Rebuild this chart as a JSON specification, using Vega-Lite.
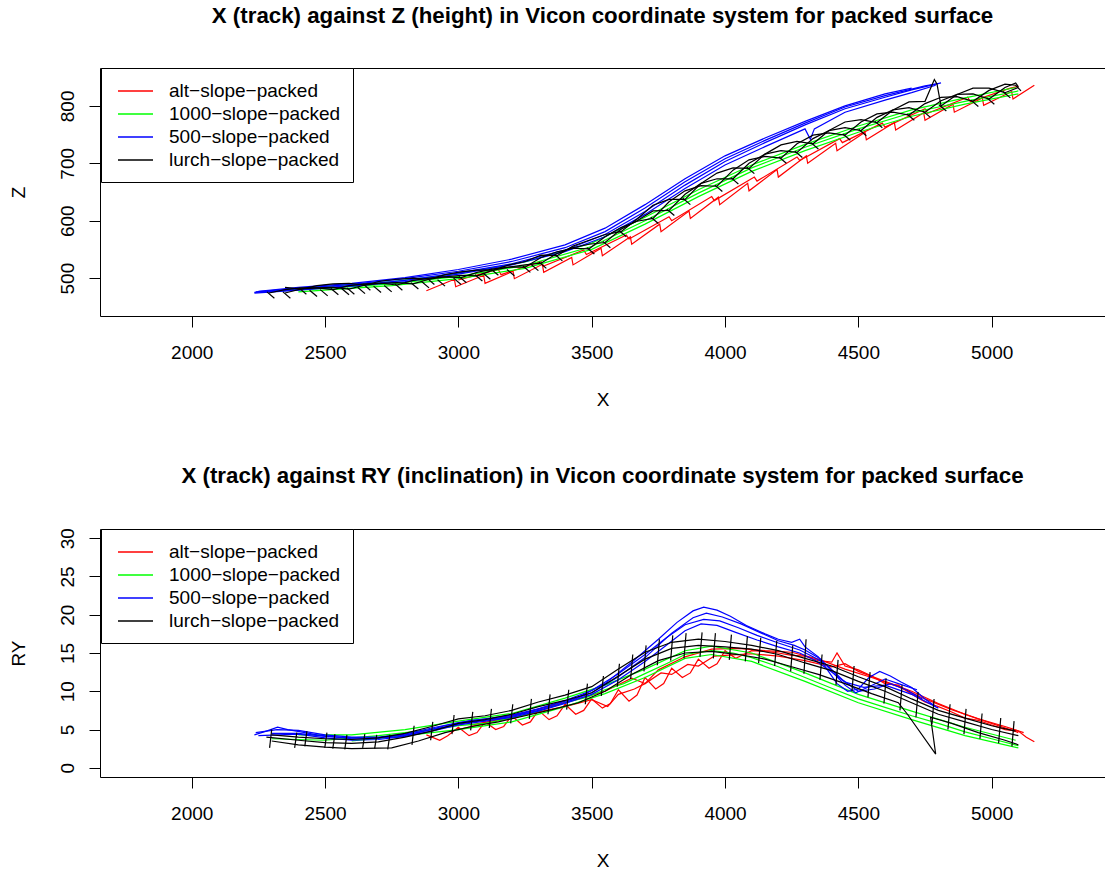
{
"$schema":"https://vega.github.io/schema/vega-lite/v6.json",
"padding":{"left":8,"top":4,"right":0,"bottom":6},
"background":"white",
"bounds":"flush",
"spacing":213,
"resolve":{"scale":{"stroke":"independent"},"legend":{"stroke":"independent"}},
"config":{
 "font":"Liberation Sans",
 "view":{"stroke":"black","strokeWidth":1},
 "axis":{"domain":false,"grid":false,"tickColor":"black","tickSize":11,"tickWidth":1,"labelFontSize":19,"labelColor":"black","labelFont":"Liberation Sans","titleFontSize":19,"titleFontWeight":"normal","titleColor":"black","titleFont":"Liberation Sans","labelFlush":false,"labelOverlap":false,"labelBaseline":"alphabetic","titleBaseline":"alphabetic","titleAlign":"center","format":"d"},
 "axisX":{"labelPadding":31,"titleX":502.5,"titleY":89,"labelAngle":0,"labelAlign":"center"},
 "axisY":{"labelPadding":16,"labelAngle":270,"labelAlign":"center","titleX":-76,"titleY":124,"titleAngle":270},
 "legend":{"title":null,"orient":"none","legendX":1,"legendY":0,"strokeColor":"black","fillColor":"white","padding":12,"rowPadding":2,"labelFontSize":19,"labelFont":"Liberation Sans","labelColor":"black","labelOffset":34,"symbolType":"M-0.6,0H2.9","symbolSize":400,"symbolStrokeWidth":1.5,"labelLimit":0},
 "title":{"fontSize":22.3,"fontWeight":"bold","color":"black","anchor":"middle","baseline":"alphabetic","offset":40,"font":"Liberation Sans"}
},
"datasets":{
"zl":[
{"s":"alt","t":"a1","x":2880,"y":478},{"s":"alt","t":"a1","x":2985,"y":498},{"s":"alt","t":"a1","x":2990,"y":485},{"s":"alt","t":"a1","x":3095,"y":505},{"s":"alt","t":"a1","x":3100,"y":491},{"s":"alt","t":"a1","x":3205,"y":512},{"s":"alt","t":"a1","x":3210,"y":499},{"s":"alt","t":"a1","x":3315,"y":524},{"s":"alt","t":"a1","x":3320,"y":510},{"s":"alt","t":"a1","x":3425,"y":536},{"s":"alt","t":"a1","x":3430,"y":523},{"s":"alt","t":"a1","x":3535,"y":552},{"s":"alt","t":"a1","x":3540,"y":539},{"s":"alt","t":"a1","x":3645,"y":572},{"s":"alt","t":"a1","x":3650,"y":559},{"s":"alt","t":"a1","x":3755,"y":594},{"s":"alt","t":"a1","x":3760,"y":581},{"s":"alt","t":"a1","x":3865,"y":617},{"s":"alt","t":"a1","x":3870,"y":604},{"s":"alt","t":"a1","x":3975,"y":641},{"s":"alt","t":"a1","x":3980,"y":628},{"s":"alt","t":"a1","x":4085,"y":665},{"s":"alt","t":"a1","x":4090,"y":652},{"s":"alt","t":"a1","x":4195,"y":689},{"s":"alt","t":"a1","x":4200,"y":676},{"s":"alt","t":"a1","x":4305,"y":713},{"s":"alt","t":"a1","x":4310,"y":700},{"s":"alt","t":"a1","x":4415,"y":735},{"s":"alt","t":"a1","x":4420,"y":722},{"s":"alt","t":"a1","x":4525,"y":754},{"s":"alt","t":"a1","x":4530,"y":741},{"s":"alt","t":"a1","x":4635,"y":771},{"s":"alt","t":"a1","x":4640,"y":758},{"s":"alt","t":"a1","x":4745,"y":788},{"s":"alt","t":"a1","x":4750,"y":775},{"s":"alt","t":"a1","x":4855,"y":803},{"s":"alt","t":"a1","x":4860,"y":789},{"s":"alt","t":"a1","x":4965,"y":814},{"s":"alt","t":"a1","x":4970,"y":801},{"s":"alt","t":"a1","x":5075,"y":825},{"s":"alt","t":"a1","x":5080,"y":812},{"s":"alt","t":"a1","x":5160,"y":836},
{"s":"alt","t":"a2","x":3000,"y":497},{"s":"alt","t":"a2","x":3150,"y":515},{"s":"alt","t":"a2","x":3160,"y":506},{"s":"alt","t":"a2","x":3310,"y":529},{"s":"alt","t":"a2","x":3320,"y":521},{"s":"alt","t":"a2","x":3470,"y":549},{"s":"alt","t":"a2","x":3480,"y":541},{"s":"alt","t":"a2","x":3630,"y":575},{"s":"alt","t":"a2","x":3640,"y":568},{"s":"alt","t":"a2","x":3790,"y":607},{"s":"alt","t":"a2","x":3800,"y":600},{"s":"alt","t":"a2","x":3950,"y":642},{"s":"alt","t":"a2","x":3960,"y":635},{"s":"alt","t":"a2","x":4110,"y":676},{"s":"alt","t":"a2","x":4120,"y":669},{"s":"alt","t":"a2","x":4270,"y":711},{"s":"alt","t":"a2","x":4280,"y":705},{"s":"alt","t":"a2","x":4430,"y":743},{"s":"alt","t":"a2","x":4440,"y":736},{"s":"alt","t":"a2","x":4590,"y":770},{"s":"alt","t":"a2","x":4600,"y":763},{"s":"alt","t":"a2","x":4750,"y":795},{"s":"alt","t":"a2","x":4760,"y":787},{"s":"alt","t":"a2","x":4910,"y":815},{"s":"alt","t":"a2","x":4920,"y":807},{"s":"alt","t":"a2","x":5070,"y":831},{"s":"alt","t":"a2","x":5100,"y":834},
{"s":"1000","t":"g1","x":2300,"y":477},{"s":"1000","t":"g1","x":2500,"y":482},{"s":"1000","t":"g1","x":2750,"y":490},{"s":"1000","t":"g1","x":3000,"y":503},{"s":"1000","t":"g1","x":3250,"y":522},{"s":"1000","t":"g1","x":3500,"y":555},{"s":"1000","t":"g1","x":3700,"y":600},{"s":"1000","t":"g1","x":3900,"y":648},{"s":"1000","t":"g1","x":4100,"y":692},{"s":"1000","t":"g1","x":4300,"y":728},{"s":"1000","t":"g1","x":4500,"y":760},{"s":"1000","t":"g1","x":4700,"y":788},{"s":"1000","t":"g1","x":4900,"y":808},{"s":"1000","t":"g1","x":5100,"y":826},
{"s":"1000","t":"g2","x":2350,"y":480},{"s":"1000","t":"g2","x":2500,"y":485},{"s":"1000","t":"g2","x":2750,"y":494},{"s":"1000","t":"g2","x":3000,"y":508},{"s":"1000","t":"g2","x":3250,"y":528},{"s":"1000","t":"g2","x":3500,"y":561},{"s":"1000","t":"g2","x":3700,"y":606},{"s":"1000","t":"g2","x":3900,"y":654},{"s":"1000","t":"g2","x":4100,"y":697},{"s":"1000","t":"g2","x":4300,"y":733},{"s":"1000","t":"g2","x":4500,"y":765},{"s":"1000","t":"g2","x":4700,"y":793},{"s":"1000","t":"g2","x":4900,"y":814},{"s":"1000","t":"g2","x":5090,"y":832},
{"s":"1000","t":"g3","x":2400,"y":476},{"s":"1000","t":"g3","x":2750,"y":487},{"s":"1000","t":"g3","x":3000,"y":499},{"s":"1000","t":"g3","x":3250,"y":517},{"s":"1000","t":"g3","x":3500,"y":550},{"s":"1000","t":"g3","x":3700,"y":594},{"s":"1000","t":"g3","x":3900,"y":642},{"s":"1000","t":"g3","x":4100,"y":686},{"s":"1000","t":"g3","x":4300,"y":722},{"s":"1000","t":"g3","x":4500,"y":754},{"s":"1000","t":"g3","x":4700,"y":782},{"s":"1000","t":"g3","x":4900,"y":803},{"s":"1000","t":"g3","x":5100,"y":821},
{"s":"500","t":"b1","x":2235,"y":475},{"s":"500","t":"b1","x":2400,"y":480},{"s":"500","t":"b1","x":2600,"y":487},{"s":"500","t":"b1","x":2800,"y":496},{"s":"500","t":"b1","x":3000,"y":509},{"s":"500","t":"b1","x":3200,"y":525},{"s":"500","t":"b1","x":3400,"y":549},{"s":"500","t":"b1","x":3550,"y":576},{"s":"500","t":"b1","x":3700,"y":616},{"s":"500","t":"b1","x":3850,"y":662},{"s":"500","t":"b1","x":4000,"y":703},{"s":"500","t":"b1","x":4150,"y":736},{"s":"500","t":"b1","x":4300,"y":767},{"s":"500","t":"b1","x":4450,"y":795},{"s":"500","t":"b1","x":4600,"y":815},{"s":"500","t":"b1","x":4700,"y":828},{"s":"500","t":"b1","x":4810,"y":840},
{"s":"500","t":"b2","x":2240,"y":476},{"s":"500","t":"b2","x":2400,"y":482},{"s":"500","t":"b2","x":2600,"y":489},{"s":"500","t":"b2","x":2800,"y":499},{"s":"500","t":"b2","x":3000,"y":512},{"s":"500","t":"b2","x":3200,"y":529},{"s":"500","t":"b2","x":3400,"y":553},{"s":"500","t":"b2","x":3550,"y":581},{"s":"500","t":"b2","x":3700,"y":622},{"s":"500","t":"b2","x":3850,"y":668},{"s":"500","t":"b2","x":4000,"y":708},{"s":"500","t":"b2","x":4150,"y":740},{"s":"500","t":"b2","x":4300,"y":770},{"s":"500","t":"b2","x":4450,"y":798},{"s":"500","t":"b2","x":4600,"y":818},{"s":"500","t":"b2","x":4750,"y":835},{"s":"500","t":"b2","x":4800,"y":839},
{"s":"500","t":"b3","x":2250,"y":477},{"s":"500","t":"b3","x":2400,"y":484},{"s":"500","t":"b3","x":2600,"y":491},{"s":"500","t":"b3","x":2800,"y":501},{"s":"500","t":"b3","x":3000,"y":515},{"s":"500","t":"b3","x":3200,"y":533},{"s":"500","t":"b3","x":3400,"y":558},{"s":"500","t":"b3","x":3550,"y":587},{"s":"500","t":"b3","x":3700,"y":628},{"s":"500","t":"b3","x":3850,"y":673},{"s":"500","t":"b3","x":4000,"y":713},{"s":"500","t":"b3","x":4150,"y":744},{"s":"500","t":"b3","x":4300,"y":773},{"s":"500","t":"b3","x":4450,"y":800},{"s":"500","t":"b3","x":4600,"y":821},{"s":"500","t":"b3","x":4700,"y":831},
{"s":"500","t":"b4","x":2235,"y":474},{"s":"500","t":"b4","x":2400,"y":479},{"s":"500","t":"b4","x":2600,"y":486},{"s":"500","t":"b4","x":2800,"y":494},{"s":"500","t":"b4","x":3000,"y":507},{"s":"500","t":"b4","x":3200,"y":523},{"s":"500","t":"b4","x":3400,"y":546},{"s":"500","t":"b4","x":3550,"y":572},{"s":"500","t":"b4","x":3700,"y":611},{"s":"500","t":"b4","x":3850,"y":656},{"s":"500","t":"b4","x":4000,"y":697},{"s":"500","t":"b4","x":4150,"y":729},{"s":"500","t":"b4","x":4300,"y":760},{"s":"500","t":"b4","x":4320,"y":742},{"s":"500","t":"b4","x":4335,"y":760},{"s":"500","t":"b4","x":4450,"y":789},{"s":"500","t":"b4","x":4600,"y":810},{"s":"500","t":"b4","x":4700,"y":823},{"s":"500","t":"b4","x":4790,"y":836},
{"s":"lurch","t":"k1","x":2290,"y":474},{"s":"lurch","t":"k1","x":2350,"y":480},{"s":"lurch","t":"k1","x":2410,"y":483},{"s":"lurch","t":"k1","x":2470,"y":483},{"s":"lurch","t":"k1","x":2530,"y":480},{"s":"lurch","t":"k1","x":2590,"y":487},{"s":"lurch","t":"k1","x":2650,"y":490},{"s":"lurch","t":"k1","x":2710,"y":491},{"s":"lurch","t":"k1","x":2770,"y":488},{"s":"lurch","t":"k1","x":2830,"y":496},{"s":"lurch","t":"k1","x":2890,"y":500},{"s":"lurch","t":"k1","x":2950,"y":502},{"s":"lurch","t":"k1","x":3010,"y":501},{"s":"lurch","t":"k1","x":3070,"y":510},{"s":"lurch","t":"k1","x":3130,"y":516},{"s":"lurch","t":"k1","x":3190,"y":519},{"s":"lurch","t":"k1","x":3250,"y":519},{"s":"lurch","t":"k1","x":3310,"y":536},{"s":"lurch","t":"k1","x":3370,"y":546},{"s":"lurch","t":"k1","x":3430,"y":552},{"s":"lurch","t":"k1","x":3490,"y":551},{"s":"lurch","t":"k1","x":3550,"y":572},{"s":"lurch","t":"k1","x":3610,"y":588},{"s":"lurch","t":"k1","x":3670,"y":599},{"s":"lurch","t":"k1","x":3730,"y":604},{"s":"lurch","t":"k1","x":3790,"y":633},{"s":"lurch","t":"k1","x":3850,"y":652},{"s":"lurch","t":"k1","x":3910,"y":661},{"s":"lurch","t":"k1","x":3970,"y":660},{"s":"lurch","t":"k1","x":4030,"y":688},{"s":"lurch","t":"k1","x":4090,"y":706},{"s":"lurch","t":"k1","x":4150,"y":712},{"s":"lurch","t":"k1","x":4210,"y":709},{"s":"lurch","t":"k1","x":4270,"y":734},{"s":"lurch","t":"k1","x":4330,"y":749},{"s":"lurch","t":"k1","x":4390,"y":753},{"s":"lurch","t":"k1","x":4450,"y":749},{"s":"lurch","t":"k1","x":4510,"y":772},{"s":"lurch","t":"k1","x":4570,"y":786},{"s":"lurch","t":"k1","x":4630,"y":789},{"s":"lurch","t":"k1","x":4690,"y":784},{"s":"lurch","t":"k1","x":4750,"y":804},{"s":"lurch","t":"k1","x":4810,"y":815},{"s":"lurch","t":"k1","x":4870,"y":816},{"s":"lurch","t":"k1","x":4930,"y":808},{"s":"lurch","t":"k1","x":4990,"y":827},{"s":"lurch","t":"k1","x":5050,"y":838},{"s":"lurch","t":"k1","x":5090,"y":836},{"s":"lurch","t":"k1","x":5110,"y":826},
{"s":"lurch","t":"k2","x":2350,"y":484},{"s":"lurch","t":"k2","x":2410,"y":481},{"s":"lurch","t":"k2","x":2470,"y":487},{"s":"lurch","t":"k2","x":2530,"y":490},{"s":"lurch","t":"k2","x":2590,"y":491},{"s":"lurch","t":"k2","x":2650,"y":488},{"s":"lurch","t":"k2","x":2710,"y":495},{"s":"lurch","t":"k2","x":2770,"y":498},{"s":"lurch","t":"k2","x":2830,"y":500},{"s":"lurch","t":"k2","x":2890,"y":498},{"s":"lurch","t":"k2","x":2950,"y":506},{"s":"lurch","t":"k2","x":3010,"y":511},{"s":"lurch","t":"k2","x":3070,"y":514},{"s":"lurch","t":"k2","x":3130,"y":514},{"s":"lurch","t":"k2","x":3190,"y":523},{"s":"lurch","t":"k2","x":3250,"y":529},{"s":"lurch","t":"k2","x":3310,"y":540},{"s":"lurch","t":"k2","x":3370,"y":539},{"s":"lurch","t":"k2","x":3430,"y":556},{"s":"lurch","t":"k2","x":3490,"y":566},{"s":"lurch","t":"k2","x":3550,"y":576},{"s":"lurch","t":"k2","x":3610,"y":581},{"s":"lurch","t":"k2","x":3670,"y":603},{"s":"lurch","t":"k2","x":3730,"y":627},{"s":"lurch","t":"k2","x":3790,"y":637},{"s":"lurch","t":"k2","x":3850,"y":637},{"s":"lurch","t":"k2","x":3910,"y":665},{"s":"lurch","t":"k2","x":3970,"y":683},{"s":"lurch","t":"k2","x":4030,"y":692},{"s":"lurch","t":"k2","x":4090,"y":691},{"s":"lurch","t":"k2","x":4150,"y":716},{"s":"lurch","t":"k2","x":4210,"y":732},{"s":"lurch","t":"k2","x":4270,"y":738},{"s":"lurch","t":"k2","x":4330,"y":734},{"s":"lurch","t":"k2","x":4390,"y":757},{"s":"lurch","t":"k2","x":4450,"y":772},{"s":"lurch","t":"k2","x":4510,"y":776},{"s":"lurch","t":"k2","x":4570,"y":771},{"s":"lurch","t":"k2","x":4630,"y":793},{"s":"lurch","t":"k2","x":4690,"y":807},{"s":"lurch","t":"k2","x":4750,"y":808},{"s":"lurch","t":"k2","x":4785,"y":846},{"s":"lurch","t":"k2","x":4795,"y":838},{"s":"lurch","t":"k2","x":4810,"y":800},{"s":"lurch","t":"k2","x":4870,"y":820},{"s":"lurch","t":"k2","x":4930,"y":831},{"s":"lurch","t":"k2","x":4990,"y":831},{"s":"lurch","t":"k2","x":5050,"y":823},{"s":"lurch","t":"k2","x":5100,"y":832},
{"s":"lurch","t":"k3","x":2350,"y":474},{"s":"lurch","t":"k3","x":2410,"y":481},{"s":"lurch","t":"k3","x":2470,"y":483},{"s":"lurch","t":"k3","x":2530,"y":484},{"s":"lurch","t":"k3","x":2590,"y":481},{"s":"lurch","t":"k3","x":2650,"y":488},{"s":"lurch","t":"k3","x":2710,"y":491},{"s":"lurch","t":"k3","x":2770,"y":492},{"s":"lurch","t":"k3","x":2830,"y":490},{"s":"lurch","t":"k3","x":2890,"y":498},{"s":"lurch","t":"k3","x":2950,"y":502},{"s":"lurch","t":"k3","x":3010,"y":505},{"s":"lurch","t":"k3","x":3070,"y":504},{"s":"lurch","t":"k3","x":3130,"y":514},{"s":"lurch","t":"k3","x":3190,"y":519},{"s":"lurch","t":"k3","x":3250,"y":523},{"s":"lurch","t":"k3","x":3310,"y":526},{"s":"lurch","t":"k3","x":3370,"y":543},{"s":"lurch","t":"k3","x":3430,"y":553},{"s":"lurch","t":"k3","x":3490,"y":559},{"s":"lurch","t":"k3","x":3550,"y":562},{"s":"lurch","t":"k3","x":3610,"y":585},{"s":"lurch","t":"k3","x":3670,"y":600},{"s":"lurch","t":"k3","x":3730,"y":617},{"s":"lurch","t":"k3","x":3790,"y":618},{"s":"lurch","t":"k3","x":3850,"y":646},{"s":"lurch","t":"k3","x":3910,"y":665},{"s":"lurch","t":"k3","x":3970,"y":673},{"s":"lurch","t":"k3","x":4030,"y":673},{"s":"lurch","t":"k3","x":4090,"y":700},{"s":"lurch","t":"k3","x":4150,"y":716},{"s":"lurch","t":"k3","x":4210,"y":722},{"s":"lurch","t":"k3","x":4270,"y":719},{"s":"lurch","t":"k3","x":4330,"y":743},{"s":"lurch","t":"k3","x":4390,"y":757},{"s":"lurch","t":"k3","x":4450,"y":762},{"s":"lurch","t":"k3","x":4510,"y":757},{"s":"lurch","t":"k3","x":4570,"y":780},{"s":"lurch","t":"k3","x":4630,"y":793},{"s":"lurch","t":"k3","x":4690,"y":797},{"s":"lurch","t":"k3","x":4750,"y":789},{"s":"lurch","t":"k3","x":4810,"y":809},{"s":"lurch","t":"k3","x":4870,"y":820},{"s":"lurch","t":"k3","x":4930,"y":821},{"s":"lurch","t":"k3","x":4990,"y":812},{"s":"lurch","t":"k3","x":5050,"y":832},{"s":"lurch","t":"k3","x":5090,"y":840},{"s":"lurch","t":"k3","x":5100,"y":833},
{"s":"lurch","t":"z1","x":2282,"y":476},{"s":"lurch","t":"z1","x":2310,"y":465},{"s":"lurch","t":"z2","x":2522,"y":482},{"s":"lurch","t":"z2","x":2550,"y":471},{"s":"lurch","t":"z3","x":2762,"y":490},{"s":"lurch","t":"z3","x":2790,"y":479},{"s":"lurch","t":"z4","x":3002,"y":503},{"s":"lurch","t":"z4","x":3030,"y":492},{"s":"lurch","t":"z5","x":3242,"y":521},{"s":"lurch","t":"z5","x":3270,"y":510},{"s":"lurch","t":"z6","x":3482,"y":553},{"s":"lurch","t":"z6","x":3510,"y":542},{"s":"lurch","t":"z7","x":3722,"y":606},{"s":"lurch","t":"z7","x":3750,"y":595},{"s":"lurch","t":"z8","x":3962,"y":662},{"s":"lurch","t":"z8","x":3990,"y":651},{"s":"lurch","t":"z9","x":4202,"y":711},{"s":"lurch","t":"z9","x":4230,"y":700},{"s":"lurch","t":"z10","x":4442,"y":751},{"s":"lurch","t":"z10","x":4470,"y":740},{"s":"lurch","t":"z11","x":4682,"y":786},{"s":"lurch","t":"z11","x":4710,"y":775},{"s":"lurch","t":"z12","x":4922,"y":810},{"s":"lurch","t":"z12","x":4950,"y":799},
{"s":"lurch","t":"z13","x":2402,"y":483},{"s":"lurch","t":"z13","x":2430,"y":472},{"s":"lurch","t":"z14","x":2642,"y":490},{"s":"lurch","t":"z14","x":2670,"y":479},{"s":"lurch","t":"z15","x":2882,"y":500},{"s":"lurch","t":"z15","x":2910,"y":489},{"s":"lurch","t":"z16","x":3122,"y":516},{"s":"lurch","t":"z16","x":3150,"y":505},{"s":"lurch","t":"z17","x":3362,"y":541},{"s":"lurch","t":"z17","x":3390,"y":530},{"s":"lurch","t":"z18","x":3602,"y":583},{"s":"lurch","t":"z18","x":3630,"y":572},{"s":"lurch","t":"z19","x":3842,"y":639},{"s":"lurch","t":"z19","x":3870,"y":628},{"s":"lurch","t":"z20","x":4082,"y":693},{"s":"lurch","t":"z20","x":4110,"y":682},{"s":"lurch","t":"z21","x":4322,"y":736},{"s":"lurch","t":"z21","x":4350,"y":725},{"s":"lurch","t":"z22","x":4562,"y":773},{"s":"lurch","t":"z22","x":4590,"y":762},{"s":"lurch","t":"z23","x":4802,"y":802},{"s":"lurch","t":"z23","x":4830,"y":791},{"s":"lurch","t":"z24","x":5042,"y":825},{"s":"lurch","t":"z24","x":5070,"y":814},
{"s":"lurch","t":"z25","x":2342,"y":476},{"s":"lurch","t":"z25","x":2370,"y":465},{"s":"lurch","t":"z26","x":2582,"y":483},{"s":"lurch","t":"z26","x":2610,"y":472},{"s":"lurch","t":"z27","x":2822,"y":492},{"s":"lurch","t":"z27","x":2850,"y":481},{"s":"lurch","t":"z28","x":3062,"y":506},{"s":"lurch","t":"z28","x":3090,"y":495},{"s":"lurch","t":"z29","x":3302,"y":528},{"s":"lurch","t":"z29","x":3330,"y":517},{"s":"lurch","t":"z30","x":3542,"y":564},{"s":"lurch","t":"z30","x":3570,"y":553},{"s":"lurch","t":"z31","x":3782,"y":620},{"s":"lurch","t":"z31","x":3810,"y":609},{"s":"lurch","t":"z32","x":4022,"y":675},{"s":"lurch","t":"z32","x":4050,"y":664},{"s":"lurch","t":"z33","x":4262,"y":721},{"s":"lurch","t":"z33","x":4290,"y":710},{"s":"lurch","t":"z34","x":4502,"y":759},{"s":"lurch","t":"z34","x":4530,"y":748},{"s":"lurch","t":"z35","x":4742,"y":791},{"s":"lurch","t":"z35","x":4770,"y":780},{"s":"lurch","t":"z36","x":4982,"y":814},{"s":"lurch","t":"z36","x":5010,"y":803},
{"s":"lurch","t":"z37","x":2442,"y":479},{"s":"lurch","t":"z37","x":2470,"y":468},{"s":"lurch","t":"z38","x":2482,"y":480},{"s":"lurch","t":"z38","x":2510,"y":469},{"s":"lurch","t":"z39","x":2562,"y":482},{"s":"lurch","t":"z39","x":2590,"y":471},{"s":"lurch","t":"z40","x":2622,"y":484},{"s":"lurch","t":"z40","x":2650,"y":473},{"s":"lurch","t":"z41","x":2682,"y":486},{"s":"lurch","t":"z41","x":2710,"y":475},{"s":"lurch","t":"z42","x":2722,"y":487},{"s":"lurch","t":"z42","x":2750,"y":476},{"s":"lurch","t":"z43","x":2862,"y":494},{"s":"lurch","t":"z43","x":2890,"y":483},{"s":"lurch","t":"z44","x":2922,"y":497},{"s":"lurch","t":"z44","x":2950,"y":486},{"s":"lurch","t":"z45","x":2982,"y":500},{"s":"lurch","t":"z45","x":3010,"y":489},{"s":"lurch","t":"z46","x":3092,"y":509},{"s":"lurch","t":"z46","x":3120,"y":498},{"s":"lurch","t":"z47","x":3182,"y":515},{"s":"lurch","t":"z47","x":3210,"y":504},{"s":"lurch","t":"z48","x":3272,"y":524},{"s":"lurch","t":"z48","x":3300,"y":513}
],
"rl":[
{"s":"alt","t":"a1","x":2880,"y":4.3},{"s":"alt","t":"a1","x":2930,"y":3.6},{"s":"alt","t":"a1","x":2960,"y":4.2},{"s":"alt","t":"a1","x":3000,"y":5.3},{"s":"alt","t":"a1","x":3040,"y":4.2},{"s":"alt","t":"a1","x":3070,"y":4.6},{"s":"alt","t":"a1","x":3100,"y":6.0},{"s":"alt","t":"a1","x":3140,"y":5.0},{"s":"alt","t":"a1","x":3170,"y":5.4},{"s":"alt","t":"a1","x":3200,"y":6.8},{"s":"alt","t":"a1","x":3240,"y":5.6},{"s":"alt","t":"a1","x":3270,"y":6.0},{"s":"alt","t":"a1","x":3300,"y":7.5},{"s":"alt","t":"a1","x":3340,"y":6.3},{"s":"alt","t":"a1","x":3370,"y":6.8},{"s":"alt","t":"a1","x":3400,"y":8.3},{"s":"alt","t":"a1","x":3440,"y":7.0},{"s":"alt","t":"a1","x":3470,"y":7.5},{"s":"alt","t":"a1","x":3500,"y":9.0},{"s":"alt","t":"a1","x":3540,"y":7.8},{"s":"alt","t":"a1","x":3570,"y":8.4},{"s":"alt","t":"a1","x":3600,"y":10.2},{"s":"alt","t":"a1","x":3640,"y":8.7},{"s":"alt","t":"a1","x":3670,"y":9.5},{"s":"alt","t":"a1","x":3700,"y":11.8},{"s":"alt","t":"a1","x":3740,"y":10.3},{"s":"alt","t":"a1","x":3770,"y":11.0},{"s":"alt","t":"a1","x":3800,"y":13.0},{"s":"alt","t":"a1","x":3840,"y":11.8},{"s":"alt","t":"a1","x":3870,"y":12.4},{"s":"alt","t":"a1","x":3900,"y":14.2},{"s":"alt","t":"a1","x":3940,"y":13.0},{"s":"alt","t":"a1","x":3970,"y":13.6},{"s":"alt","t":"a1","x":4000,"y":15.3},{"s":"alt","t":"a1","x":4040,"y":14.3},{"s":"alt","t":"a1","x":4070,"y":14.8},{"s":"alt","t":"a1","x":4100,"y":15.3},{"s":"alt","t":"a1","x":4150,"y":15.2},{"s":"alt","t":"a1","x":4200,"y":15.0},{"s":"alt","t":"a1","x":4250,"y":14.7},{"s":"alt","t":"a1","x":4300,"y":14.6},{"s":"alt","t":"a1","x":4350,"y":14.0},{"s":"alt","t":"a1","x":4400,"y":13.8},{"s":"alt","t":"a1","x":4420,"y":15.0},{"s":"alt","t":"a1","x":4450,"y":13.3},{"s":"alt","t":"a1","x":4500,"y":12.8},{"s":"alt","t":"a1","x":4550,"y":12.0},{"s":"alt","t":"a1","x":4600,"y":11.0},{"s":"alt","t":"a1","x":4650,"y":10.8},{"s":"alt","t":"a1","x":4700,"y":9.6},{"s":"alt","t":"a1","x":4750,"y":8.6},{"s":"alt","t":"a1","x":4800,"y":8.0},{"s":"alt","t":"a1","x":4850,"y":7.3},{"s":"alt","t":"a1","x":4900,"y":6.5},{"s":"alt","t":"a1","x":4950,"y":6.2},{"s":"alt","t":"a1","x":5000,"y":5.6},{"s":"alt","t":"a1","x":5050,"y":5.0},{"s":"alt","t":"a1","x":5100,"y":4.8},{"s":"alt","t":"a1","x":5130,"y":4.0},{"s":"alt","t":"a1","x":5160,"y":3.4},
{"s":"alt","t":"a2","x":3000,"y":5.0},{"s":"alt","t":"a2","x":3100,"y":5.8},{"s":"alt","t":"a2","x":3200,"y":6.5},{"s":"alt","t":"a2","x":3300,"y":7.3},{"s":"alt","t":"a2","x":3400,"y":8.0},{"s":"alt","t":"a2","x":3500,"y":8.9},{"s":"alt","t":"a2","x":3560,"y":8.0},{"s":"alt","t":"a2","x":3600,"y":9.6},{"s":"alt","t":"a2","x":3660,"y":10.3},{"s":"alt","t":"a2","x":3700,"y":11.0},{"s":"alt","t":"a2","x":3760,"y":12.4},{"s":"alt","t":"a2","x":3800,"y":12.2},{"s":"alt","t":"a2","x":3860,"y":13.5},{"s":"alt","t":"a2","x":3900,"y":13.3},{"s":"alt","t":"a2","x":3960,"y":14.6},{"s":"alt","t":"a2","x":4000,"y":14.7},{"s":"alt","t":"a2","x":4100,"y":14.9},{"s":"alt","t":"a2","x":4200,"y":14.6},{"s":"alt","t":"a2","x":4300,"y":14.0},{"s":"alt","t":"a2","x":4400,"y":13.2},{"s":"alt","t":"a2","x":4450,"y":13.6},{"s":"alt","t":"a2","x":4500,"y":12.6},{"s":"alt","t":"a2","x":4600,"y":11.3},{"s":"alt","t":"a2","x":4700,"y":10.0},{"s":"alt","t":"a2","x":4800,"y":8.4},{"s":"alt","t":"a2","x":4900,"y":7.0},{"s":"alt","t":"a2","x":5000,"y":5.8},{"s":"alt","t":"a2","x":5100,"y":4.6},
{"s":"alt","t":"a3","x":3050,"y":5.6},{"s":"alt","t":"a3","x":3150,"y":6.3},{"s":"alt","t":"a3","x":3250,"y":7.2},{"s":"alt","t":"a3","x":3350,"y":8.1},{"s":"alt","t":"a3","x":3450,"y":9.0},{"s":"alt","t":"a3","x":3550,"y":10.0},{"s":"alt","t":"a3","x":3650,"y":11.7},{"s":"alt","t":"a3","x":3700,"y":11.0},{"s":"alt","t":"a3","x":3750,"y":12.8},{"s":"alt","t":"a3","x":3850,"y":14.5},{"s":"alt","t":"a3","x":3950,"y":15.5},{"s":"alt","t":"a3","x":4050,"y":15.6},{"s":"alt","t":"a3","x":4150,"y":15.3},{"s":"alt","t":"a3","x":4250,"y":15.1},{"s":"alt","t":"a3","x":4350,"y":14.2},{"s":"alt","t":"a3","x":4450,"y":12.9},{"s":"alt","t":"a3","x":4550,"y":11.8},{"s":"alt","t":"a3","x":4650,"y":10.6},{"s":"alt","t":"a3","x":4750,"y":9.0},{"s":"alt","t":"a3","x":4850,"y":7.6},{"s":"alt","t":"a3","x":4950,"y":6.4},{"s":"alt","t":"a3","x":5050,"y":5.4},{"s":"alt","t":"a3","x":5120,"y":4.6},
{"s":"1000","t":"g1","x":2300,"y":3.8},{"s":"1000","t":"g1","x":2500,"y":3.6},{"s":"1000","t":"g1","x":2700,"y":4.2},{"s":"1000","t":"g1","x":2900,"y":5.0},{"s":"1000","t":"g1","x":3000,"y":5.5},{"s":"1000","t":"g1","x":3100,"y":5.8},{"s":"1000","t":"g1","x":3200,"y":6.5},{"s":"1000","t":"g1","x":3300,"y":7.4},{"s":"1000","t":"g1","x":3400,"y":8.5},{"s":"1000","t":"g1","x":3480,"y":9.2},{"s":"1000","t":"g1","x":3550,"y":10.2},{"s":"1000","t":"g1","x":3620,"y":11.0},{"s":"1000","t":"g1","x":3700,"y":12.3},{"s":"1000","t":"g1","x":3780,"y":13.6},{"s":"1000","t":"g1","x":3850,"y":14.8},{"s":"1000","t":"g1","x":3950,"y":15.3},{"s":"1000","t":"g1","x":4030,"y":15.0},{"s":"1000","t":"g1","x":4100,"y":14.4},{"s":"1000","t":"g1","x":4200,"y":13.2},{"s":"1000","t":"g1","x":4300,"y":11.8},{"s":"1000","t":"g1","x":4400,"y":10.4},{"s":"1000","t":"g1","x":4500,"y":9.0},{"s":"1000","t":"g1","x":4600,"y":7.9},{"s":"1000","t":"g1","x":4700,"y":6.8},{"s":"1000","t":"g1","x":4800,"y":5.8},{"s":"1000","t":"g1","x":4900,"y":4.7},{"s":"1000","t":"g1","x":5000,"y":3.8},{"s":"1000","t":"g1","x":5100,"y":2.9},
{"s":"1000","t":"g2","x":2400,"y":4.3},{"s":"1000","t":"g2","x":2600,"y":4.3},{"s":"1000","t":"g2","x":2800,"y":5.0},{"s":"1000","t":"g2","x":3000,"y":6.1},{"s":"1000","t":"g2","x":3200,"y":7.1},{"s":"1000","t":"g2","x":3400,"y":9.1},{"s":"1000","t":"g2","x":3550,"y":10.8},{"s":"1000","t":"g2","x":3700,"y":12.9},{"s":"1000","t":"g2","x":3850,"y":15.3},{"s":"1000","t":"g2","x":3950,"y":15.9},{"s":"1000","t":"g2","x":4100,"y":15.0},{"s":"1000","t":"g2","x":4300,"y":12.4},{"s":"1000","t":"g2","x":4500,"y":9.6},{"s":"1000","t":"g2","x":4700,"y":7.4},{"s":"1000","t":"g2","x":4900,"y":5.3},{"s":"1000","t":"g2","x":5090,"y":3.6},
{"s":"1000","t":"g3","x":2600,"y":3.5},{"s":"1000","t":"g3","x":2800,"y":4.2},{"s":"1000","t":"g3","x":3000,"y":5.0},{"s":"1000","t":"g3","x":3200,"y":6.0},{"s":"1000","t":"g3","x":3400,"y":8.0},{"s":"1000","t":"g3","x":3550,"y":9.7},{"s":"1000","t":"g3","x":3700,"y":11.8},{"s":"1000","t":"g3","x":3850,"y":14.3},{"s":"1000","t":"g3","x":3950,"y":14.8},{"s":"1000","t":"g3","x":4100,"y":13.9},{"s":"1000","t":"g3","x":4300,"y":11.3},{"s":"1000","t":"g3","x":4500,"y":8.5},{"s":"1000","t":"g3","x":4700,"y":6.3},{"s":"1000","t":"g3","x":4900,"y":4.2},{"s":"1000","t":"g3","x":5100,"y":2.6},
{"s":"500","t":"b1","x":2235,"y":4.3},{"s":"500","t":"b1","x":2280,"y":4.8},{"s":"500","t":"b1","x":2322,"y":5.3},{"s":"500","t":"b1","x":2360,"y":5.0},{"s":"500","t":"b1","x":2409,"y":4.7},{"s":"500","t":"b1","x":2470,"y":4.3},{"s":"500","t":"b1","x":2533,"y":4.05},{"s":"500","t":"b1","x":2600,"y":3.8},{"s":"500","t":"b1","x":2660,"y":3.8},{"s":"500","t":"b1","x":2772,"y":4.05},{"s":"500","t":"b1","x":2850,"y":4.6},{"s":"500","t":"b1","x":2950,"y":5.5},{"s":"500","t":"b1","x":3050,"y":6.2},{"s":"500","t":"b1","x":3150,"y":6.5},{"s":"500","t":"b1","x":3250,"y":7.2},{"s":"500","t":"b1","x":3350,"y":8.2},{"s":"500","t":"b1","x":3450,"y":9.2},{"s":"500","t":"b1","x":3550,"y":11.0},{"s":"500","t":"b1","x":3650,"y":13.8},{"s":"500","t":"b1","x":3750,"y":16.8},{"s":"500","t":"b1","x":3820,"y":19.0},{"s":"500","t":"b1","x":3880,"y":20.5},{"s":"500","t":"b1","x":3920,"y":21.0},{"s":"500","t":"b1","x":3970,"y":20.6},{"s":"500","t":"b1","x":4020,"y":19.8},{"s":"500","t":"b1","x":4080,"y":18.6},{"s":"500","t":"b1","x":4150,"y":17.5},{"s":"500","t":"b1","x":4200,"y":16.8},{"s":"500","t":"b1","x":4250,"y":16.4},{"s":"500","t":"b1","x":4280,"y":16.8},{"s":"500","t":"b1","x":4300,"y":15.8},{"s":"500","t":"b1","x":4350,"y":14.5},{"s":"500","t":"b1","x":4380,"y":13.0},{"s":"500","t":"b1","x":4420,"y":11.0},{"s":"500","t":"b1","x":4460,"y":10.0},{"s":"500","t":"b1","x":4500,"y":10.3},{"s":"500","t":"b1","x":4540,"y":11.8},{"s":"500","t":"b1","x":4580,"y":12.6},{"s":"500","t":"b1","x":4620,"y":12.0},{"s":"500","t":"b1","x":4660,"y":11.2},{"s":"500","t":"b1","x":4700,"y":10.5},{"s":"500","t":"b1","x":4750,"y":9.0},{"s":"500","t":"b1","x":4790,"y":8.0},
{"s":"500","t":"b2","x":2240,"y":4.6},{"s":"500","t":"b2","x":2320,"y":5.0},{"s":"500","t":"b2","x":2400,"y":4.9},{"s":"500","t":"b2","x":2500,"y":4.3},{"s":"500","t":"b2","x":2600,"y":4.0},{"s":"500","t":"b2","x":2700,"y":4.0},{"s":"500","t":"b2","x":2800,"y":4.4},{"s":"500","t":"b2","x":2900,"y":5.2},{"s":"500","t":"b2","x":3000,"y":5.9},{"s":"500","t":"b2","x":3100,"y":6.4},{"s":"500","t":"b2","x":3200,"y":6.9},{"s":"500","t":"b2","x":3300,"y":7.7},{"s":"500","t":"b2","x":3400,"y":8.8},{"s":"500","t":"b2","x":3500,"y":10.1},{"s":"500","t":"b2","x":3600,"y":12.3},{"s":"500","t":"b2","x":3700,"y":14.8},{"s":"500","t":"b2","x":3780,"y":17.0},{"s":"500","t":"b2","x":3850,"y":18.7},{"s":"500","t":"b2","x":3920,"y":19.4},{"s":"500","t":"b2","x":3980,"y":19.2},{"s":"500","t":"b2","x":4050,"y":18.3},{"s":"500","t":"b2","x":4120,"y":17.3},{"s":"500","t":"b2","x":4200,"y":16.3},{"s":"500","t":"b2","x":4280,"y":15.4},{"s":"500","t":"b2","x":4330,"y":14.5},{"s":"500","t":"b2","x":4380,"y":13.5},{"s":"500","t":"b2","x":4440,"y":11.5},{"s":"500","t":"b2","x":4500,"y":10.0},{"s":"500","t":"b2","x":4560,"y":10.3},{"s":"500","t":"b2","x":4620,"y":11.0},{"s":"500","t":"b2","x":4680,"y":10.2},{"s":"500","t":"b2","x":4740,"y":9.0},
{"s":"500","t":"b3","x":2300,"y":4.5},{"s":"500","t":"b3","x":2400,"y":4.5},{"s":"500","t":"b3","x":2500,"y":4.1},{"s":"500","t":"b3","x":2600,"y":3.9},{"s":"500","t":"b3","x":2700,"y":3.9},{"s":"500","t":"b3","x":2800,"y":4.3},{"s":"500","t":"b3","x":2900,"y":5.0},{"s":"500","t":"b3","x":3000,"y":5.7},{"s":"500","t":"b3","x":3100,"y":6.2},{"s":"500","t":"b3","x":3200,"y":6.7},{"s":"500","t":"b3","x":3300,"y":7.5},{"s":"500","t":"b3","x":3400,"y":8.5},{"s":"500","t":"b3","x":3500,"y":9.8},{"s":"500","t":"b3","x":3600,"y":11.9},{"s":"500","t":"b3","x":3700,"y":14.4},{"s":"500","t":"b3","x":3800,"y":17.6},{"s":"500","t":"b3","x":3880,"y":19.6},{"s":"500","t":"b3","x":3930,"y":20.2},{"s":"500","t":"b3","x":3990,"y":19.7},{"s":"500","t":"b3","x":4060,"y":18.8},{"s":"500","t":"b3","x":4130,"y":17.7},{"s":"500","t":"b3","x":4200,"y":16.6},{"s":"500","t":"b3","x":4260,"y":16.0},{"s":"500","t":"b3","x":4300,"y":15.4},{"s":"500","t":"b3","x":4360,"y":14.2},{"s":"500","t":"b3","x":4400,"y":12.6},{"s":"500","t":"b3","x":4450,"y":10.8},{"s":"500","t":"b3","x":4490,"y":9.8},{"s":"500","t":"b3","x":4540,"y":10.6},{"s":"500","t":"b3","x":4600,"y":11.6},{"s":"500","t":"b3","x":4650,"y":11.0},{"s":"500","t":"b3","x":4720,"y":10.2},
{"s":"500","t":"b4","x":2250,"y":4.2},{"s":"500","t":"b4","x":2400,"y":4.4},{"s":"500","t":"b4","x":2500,"y":3.9},{"s":"500","t":"b4","x":2600,"y":3.6},{"s":"500","t":"b4","x":2700,"y":3.7},{"s":"500","t":"b4","x":2800,"y":4.1},{"s":"500","t":"b4","x":2900,"y":4.8},{"s":"500","t":"b4","x":3000,"y":5.6},{"s":"500","t":"b4","x":3100,"y":6.1},{"s":"500","t":"b4","x":3200,"y":6.6},{"s":"500","t":"b4","x":3300,"y":7.4},{"s":"500","t":"b4","x":3400,"y":8.4},{"s":"500","t":"b4","x":3500,"y":9.6},{"s":"500","t":"b4","x":3600,"y":11.5},{"s":"500","t":"b4","x":3700,"y":13.9},{"s":"500","t":"b4","x":3780,"y":16.0},{"s":"500","t":"b4","x":3850,"y":17.9},{"s":"500","t":"b4","x":3910,"y":18.8},{"s":"500","t":"b4","x":3970,"y":18.6},{"s":"500","t":"b4","x":4040,"y":17.7},{"s":"500","t":"b4","x":4120,"y":16.7},{"s":"500","t":"b4","x":4200,"y":15.8},{"s":"500","t":"b4","x":4280,"y":15.0},{"s":"500","t":"b4","x":4340,"y":14.0},{"s":"500","t":"b4","x":4400,"y":12.5},{"s":"500","t":"b4","x":4450,"y":11.2},{"s":"500","t":"b4","x":4520,"y":10.5},{"s":"500","t":"b4","x":4600,"y":10.8},{"s":"500","t":"b4","x":4700,"y":9.6},{"s":"500","t":"b4","x":4800,"y":7.8},
{"s":"lurch","t":"k1","x":2280,"y":4.0},{"s":"lurch","t":"k1","x":2400,"y":3.6},{"s":"lurch","t":"k1","x":2500,"y":3.3},{"s":"lurch","t":"k1","x":2600,"y":3.2},{"s":"lurch","t":"k1","x":2700,"y":3.4},{"s":"lurch","t":"k1","x":2800,"y":4.0},{"s":"lurch","t":"k1","x":2900,"y":4.8},{"s":"lurch","t":"k1","x":3000,"y":5.8},{"s":"lurch","t":"k1","x":3100,"y":6.3},{"s":"lurch","t":"k1","x":3200,"y":7.0},{"s":"lurch","t":"k1","x":3300,"y":8.0},{"s":"lurch","t":"k1","x":3400,"y":8.8},{"s":"lurch","t":"k1","x":3500,"y":9.8},{"s":"lurch","t":"k1","x":3600,"y":12.0},{"s":"lurch","t":"k1","x":3700,"y":14.2},{"s":"lurch","t":"k1","x":3800,"y":15.6},{"s":"lurch","t":"k1","x":3900,"y":16.0},{"s":"lurch","t":"k1","x":4000,"y":15.8},{"s":"lurch","t":"k1","x":4100,"y":15.5},{"s":"lurch","t":"k1","x":4200,"y":14.8},{"s":"lurch","t":"k1","x":4300,"y":13.7},{"s":"lurch","t":"k1","x":4400,"y":12.7},{"s":"lurch","t":"k1","x":4500,"y":11.3},{"s":"lurch","t":"k1","x":4600,"y":10.0},{"s":"lurch","t":"k1","x":4700,"y":8.5},{"s":"lurch","t":"k1","x":4800,"y":7.0},{"s":"lurch","t":"k1","x":4900,"y":6.0},{"s":"lurch","t":"k1","x":5000,"y":5.0},{"s":"lurch","t":"k1","x":5100,"y":4.2},
{"s":"lurch","t":"k2","x":2300,"y":4.3},{"s":"lurch","t":"k2","x":2400,"y":4.0},{"s":"lurch","t":"k2","x":2500,"y":3.8},{"s":"lurch","t":"k2","x":2600,"y":3.7},{"s":"lurch","t":"k2","x":2700,"y":3.9},{"s":"lurch","t":"k2","x":2800,"y":4.5},{"s":"lurch","t":"k2","x":2900,"y":5.4},{"s":"lurch","t":"k2","x":3000,"y":6.4},{"s":"lurch","t":"k2","x":3100,"y":6.8},{"s":"lurch","t":"k2","x":3200,"y":7.5},{"s":"lurch","t":"k2","x":3300,"y":8.6},{"s":"lurch","t":"k2","x":3400,"y":9.5},{"s":"lurch","t":"k2","x":3500,"y":10.6},{"s":"lurch","t":"k2","x":3600,"y":12.9},{"s":"lurch","t":"k2","x":3700,"y":15.1},{"s":"lurch","t":"k2","x":3800,"y":16.4},{"s":"lurch","t":"k2","x":3900,"y":16.8},{"s":"lurch","t":"k2","x":4000,"y":16.5},{"s":"lurch","t":"k2","x":4100,"y":16.0},{"s":"lurch","t":"k2","x":4200,"y":15.3},{"s":"lurch","t":"k2","x":4300,"y":14.3},{"s":"lurch","t":"k2","x":4400,"y":13.3},{"s":"lurch","t":"k2","x":4500,"y":11.9},{"s":"lurch","t":"k2","x":4600,"y":10.6},{"s":"lurch","t":"k2","x":4700,"y":9.0},{"s":"lurch","t":"k2","x":4800,"y":7.5},{"s":"lurch","t":"k2","x":4900,"y":6.5},{"s":"lurch","t":"k2","x":5000,"y":5.5},{"s":"lurch","t":"k2","x":5090,"y":4.8},
{"s":"lurch","t":"k3","x":2300,"y":3.5},{"s":"lurch","t":"k3","x":2400,"y":3.0},{"s":"lurch","t":"k3","x":2500,"y":2.7},{"s":"lurch","t":"k3","x":2600,"y":2.5},{"s":"lurch","t":"k3","x":2750,"y":2.6},{"s":"lurch","t":"k3","x":2850,"y":3.5},{"s":"lurch","t":"k3","x":2950,"y":4.6},{"s":"lurch","t":"k3","x":3050,"y":5.4},{"s":"lurch","t":"k3","x":3150,"y":6.0},{"s":"lurch","t":"k3","x":3250,"y":6.8},{"s":"lurch","t":"k3","x":3350,"y":7.6},{"s":"lurch","t":"k3","x":3450,"y":8.5},{"s":"lurch","t":"k3","x":3550,"y":10.0},{"s":"lurch","t":"k3","x":3650,"y":12.2},{"s":"lurch","t":"k3","x":3750,"y":14.0},{"s":"lurch","t":"k3","x":3850,"y":15.0},{"s":"lurch","t":"k3","x":3950,"y":15.2},{"s":"lurch","t":"k3","x":4050,"y":14.8},{"s":"lurch","t":"k3","x":4150,"y":14.2},{"s":"lurch","t":"k3","x":4250,"y":13.2},{"s":"lurch","t":"k3","x":4350,"y":12.2},{"s":"lurch","t":"k3","x":4450,"y":11.0},{"s":"lurch","t":"k3","x":4550,"y":9.7},{"s":"lurch","t":"k3","x":4650,"y":8.5},{"s":"lurch","t":"k3","x":4684,"y":7.0},{"s":"lurch","t":"k3","x":4790,"y":1.8},{"s":"lurch","t":"k3","x":4771,"y":6.6},{"s":"lurch","t":"k3","x":4850,"y":5.8},{"s":"lurch","t":"k3","x":4950,"y":4.6},{"s":"lurch","t":"k3","x":5050,"y":3.6},{"s":"lurch","t":"k3","x":5100,"y":3.0},
{"s":"lurch","t":"r1","x":2300,"y":5.0},{"s":"lurch","t":"r1","x":2292,"y":2.6},{"s":"lurch","t":"r2","x":2394,"y":4.6},{"s":"lurch","t":"r2","x":2386,"y":2.6},{"s":"lurch","t":"r3","x":2432,"y":4.8},{"s":"lurch","t":"r3","x":2424,"y":2.8},{"s":"lurch","t":"r4","x":2507,"y":4.6},{"s":"lurch","t":"r4","x":2499,"y":2.6},{"s":"lurch","t":"r5","x":2537,"y":4.4},{"s":"lurch","t":"r5","x":2529,"y":2.5},{"s":"lurch","t":"r6","x":2582,"y":4.3},{"s":"lurch","t":"r6","x":2574,"y":2.4},{"s":"lurch","t":"r7","x":2649,"y":4.4},{"s":"lurch","t":"r7","x":2641,"y":2.6},{"s":"lurch","t":"r8","x":2694,"y":4.3},{"s":"lurch","t":"r8","x":2686,"y":2.5},{"s":"lurch","t":"r9","x":2743,"y":4.3},{"s":"lurch","t":"r9","x":2735,"y":2.4},{"s":"lurch","t":"r10","x":2834,"y":5.5},{"s":"lurch","t":"r10","x":2826,"y":3.0},{"s":"lurch","t":"r11","x":2904,"y":6.0},{"s":"lurch","t":"r11","x":2896,"y":3.6},{"s":"lurch","t":"r12","x":2984,"y":6.9},{"s":"lurch","t":"r12","x":2976,"y":4.4},{"s":"lurch","t":"r13","x":3054,"y":7.3},{"s":"lurch","t":"r13","x":3046,"y":4.9},{"s":"lurch","t":"r14","x":3124,"y":7.7},{"s":"lurch","t":"r14","x":3116,"y":5.2},{"s":"lurch","t":"r15","x":3204,"y":8.3},{"s":"lurch","t":"r15","x":3196,"y":5.8},{"s":"lurch","t":"r16","x":3274,"y":9.0},{"s":"lurch","t":"r16","x":3266,"y":6.4},{"s":"lurch","t":"r17","x":3344,"y":9.6},{"s":"lurch","t":"r17","x":3336,"y":7.0},{"s":"lurch","t":"r18","x":3414,"y":10.2},{"s":"lurch","t":"r18","x":3406,"y":7.6},{"s":"lurch","t":"r19","x":3484,"y":11.0},{"s":"lurch","t":"r19","x":3476,"y":8.3},{"s":"lurch","t":"r20","x":3544,"y":12.0},{"s":"lurch","t":"r20","x":3536,"y":9.4},{"s":"lurch","t":"r21","x":3604,"y":13.6},{"s":"lurch","t":"r21","x":3596,"y":10.6},{"s":"lurch","t":"r22","x":3654,"y":14.8},{"s":"lurch","t":"r22","x":3646,"y":11.6},{"s":"lurch","t":"r23","x":3704,"y":16.0},{"s":"lurch","t":"r23","x":3696,"y":12.6},{"s":"lurch","t":"r24","x":3754,"y":16.8},{"s":"lurch","t":"r24","x":3746,"y":13.4},{"s":"lurch","t":"r25","x":3804,"y":17.3},{"s":"lurch","t":"r25","x":3796,"y":14.0},{"s":"lurch","t":"r26","x":3854,"y":17.6},{"s":"lurch","t":"r26","x":3846,"y":14.3},{"s":"lurch","t":"r27","x":3914,"y":17.7},{"s":"lurch","t":"r27","x":3906,"y":14.5},{"s":"lurch","t":"r28","x":3964,"y":17.6},{"s":"lurch","t":"r28","x":3956,"y":14.3},{"s":"lurch","t":"r29","x":4024,"y":17.4},{"s":"lurch","t":"r29","x":4016,"y":14.1},{"s":"lurch","t":"r30","x":4084,"y":17.2},{"s":"lurch","t":"r30","x":4076,"y":13.9},{"s":"lurch","t":"r31","x":4134,"y":17.0},{"s":"lurch","t":"r31","x":4126,"y":13.7},{"s":"lurch","t":"r32","x":4194,"y":16.6},{"s":"lurch","t":"r32","x":4186,"y":13.3},{"s":"lurch","t":"r33","x":4254,"y":16.0},{"s":"lurch","t":"r33","x":4246,"y":12.6},{"s":"lurch","t":"r34","x":4304,"y":16.8},{"s":"lurch","t":"r34","x":4296,"y":12.3},{"s":"lurch","t":"r35","x":4364,"y":14.8},{"s":"lurch","t":"r35","x":4356,"y":11.5},{"s":"lurch","t":"r36","x":4424,"y":14.1},{"s":"lurch","t":"r36","x":4416,"y":10.8},{"s":"lurch","t":"r37","x":4484,"y":13.3},{"s":"lurch","t":"r37","x":4476,"y":10.0},{"s":"lurch","t":"r38","x":4544,"y":12.5},{"s":"lurch","t":"r38","x":4536,"y":9.2},{"s":"lurch","t":"r39","x":4604,"y":11.7},{"s":"lurch","t":"r39","x":4596,"y":8.4},{"s":"lurch","t":"r40","x":4664,"y":10.8},{"s":"lurch","t":"r40","x":4656,"y":7.5},{"s":"lurch","t":"r41","x":4724,"y":9.9},{"s":"lurch","t":"r41","x":4716,"y":6.6},{"s":"lurch","t":"r42","x":4784,"y":9.0},{"s":"lurch","t":"r42","x":4776,"y":5.7},{"s":"lurch","t":"r43","x":4844,"y":8.3},{"s":"lurch","t":"r43","x":4836,"y":5.0},{"s":"lurch","t":"r44","x":4904,"y":7.7},{"s":"lurch","t":"r44","x":4896,"y":4.4},{"s":"lurch","t":"r45","x":4964,"y":7.1},{"s":"lurch","t":"r45","x":4956,"y":3.8},{"s":"lurch","t":"r46","x":5034,"y":6.5},{"s":"lurch","t":"r46","x":5026,"y":3.2},{"s":"lurch","t":"r47","x":5084,"y":6.1},{"s":"lurch","t":"r47","x":5076,"y":2.8}
]
},
"vconcat":[
{
 "title":"X (track) against Z (height) in Vicon coordinate system for packed surface",
 "width":1005,"height":248,
 "data":{"name":"zl"},
 "mark":{"type":"line","strokeWidth":1.2},
 "encoding":{
  "x":{"field":"x","type":"quantitative","scale":{"domain":[1656,5425],"nice":false,"zero":false},"axis":{"values":[2000,2500,3000,3500,4000,4500,5000],"title":"X"}},
  "y":{"field":"y","type":"quantitative","scale":{"domain":[434,866],"nice":false,"zero":false},"axis":{"values":[500,600,700,800],"title":"Z"}},
  "stroke":{"field":"s","type":"nominal","scale":{"domain":["alt","1000","500","lurch"],"range":["#ff0000","#00ff00","#0000ff","#000000"]},
    "legend":{"labelExpr":"datum.label + '\u2212slope\u2212packed'"}},
  "detail":{"field":"t"},
  "order":{"value":null}
 }
},
{
 "title":"X (track) against RY (inclination) in Vicon coordinate system for packed surface",
 "width":1005,"height":248,
 "data":{"name":"rl"},
 "mark":{"type":"line","strokeWidth":1.2},
 "encoding":{
  "x":{"field":"x","type":"quantitative","scale":{"domain":[1656,5425],"nice":false,"zero":false},"axis":{"values":[2000,2500,3000,3500,4000,4500,5000],"title":"X"}},
  "y":{"field":"y","type":"quantitative","scale":{"domain":[-1.2,31.2],"nice":false,"zero":false},"axis":{"values":[0,5,10,15,20,25,30],"title":"RY"}},
  "stroke":{"field":"s","type":"nominal","scale":{"domain":["alt","1000","500","lurch"],"range":["#ff0000","#00ff00","#0000ff","#000000"]},
    "legend":{"labelExpr":"datum.label + '\u2212slope\u2212packed'"}},
  "detail":{"field":"t"},
  "order":{"value":null}
 }
}
]
}
